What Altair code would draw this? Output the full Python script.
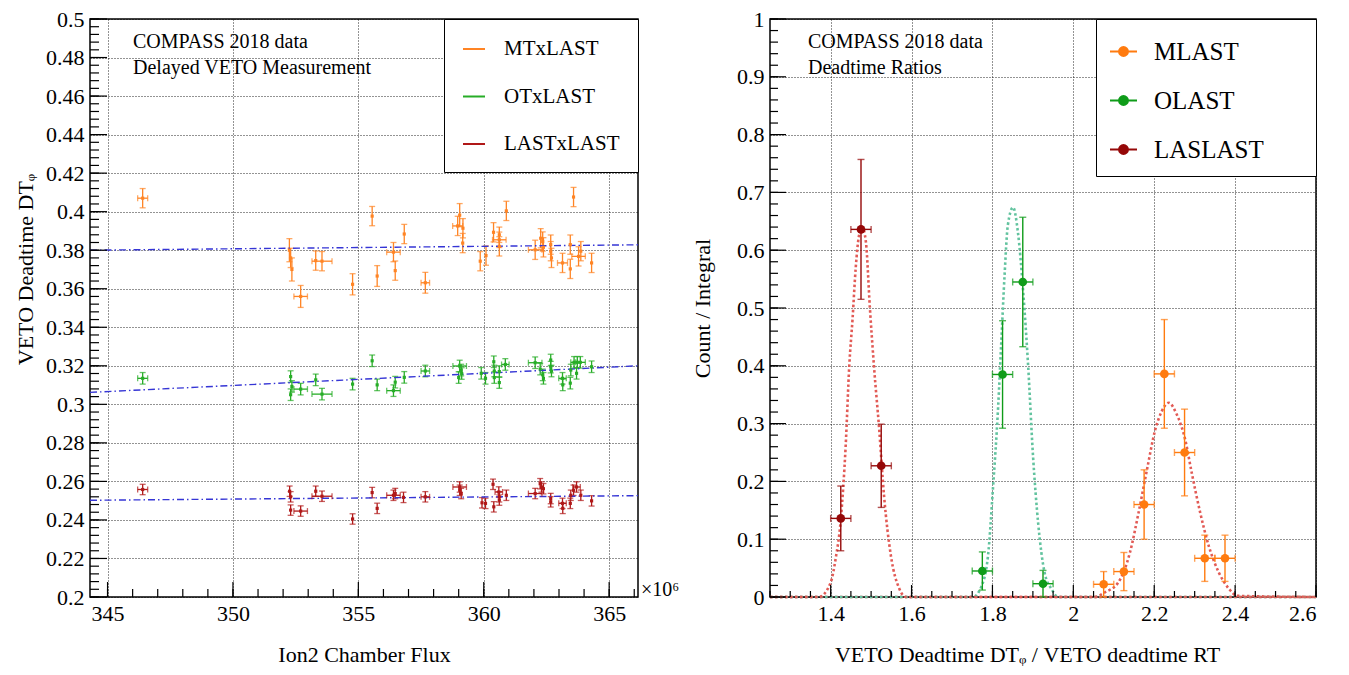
import altair as alt
import pandas as pd
import numpy as np

FONT = "Liberation Serif"

# ---------------- Left panel: Delayed VETO measurement ----------------
left_series = ["MTxLAST", "OTxLAST", "LASTxLAST"]
left_colors = ["#ff8424", "#27ad27", "#b01818"]

mt_x = [346.4, 352.25, 352.3, 352.35, 352.7, 353.3, 353.55, 354.77, 355.55, 355.75,
        356.4, 356.47, 356.83, 357.67, 358.96, 359.04, 359.17, 359.16, 359.86, 360.09,
        360.39, 360.62, 360.62, 360.62, 360.9, 362.05, 362.27, 362.35, 362.38, 362.67,
        362.67, 362.7, 363.14, 363.45, 363.45, 363.58, 363.78, 363.87, 364.3]
mt_y = [0.407, 0.380, 0.376, 0.370, 0.356, 0.3746, 0.3743, 0.3623, 0.3977, 0.3666,
        0.379, 0.3694, 0.3884, 0.3631, 0.3926, 0.3982, 0.3914, 0.3837, 0.3743, 0.3772,
        0.3893, 0.388, 0.3854, 0.382, 0.4004, 0.3802, 0.3862, 0.3845, 0.3815, 0.3829,
        0.3795, 0.376, 0.3734, 0.3829, 0.3703, 0.4076, 0.3768, 0.3795, 0.3734]
mt_ex = [0.2, 0, 0, 0, 0.27, 0, 0.4, 0, 0, 0, 0.27, 0, 0, 0.17, 0.2, 0, 0, 0, 0, 0,
         0, 0, 0.27, 0, 0, 0.27, 0, 0, 0, 0, 0, 0, 0.2, 0, 0, 0, 0.27, 0, 0]
mt_ey = [0.005, 0.006, 0.005, 0.006, 0.0057, 0.005, 0.005, 0.0055, 0.005, 0.0054,
         0.005, 0.005, 0.005, 0.0054, 0.005, 0.006, 0.005, 0.005, 0.005, 0.005,
         0.005, 0.004, 0.004, 0.005, 0.005, 0.005, 0.005, 0.005, 0.005, 0.005,
         0.005, 0.005, 0.005, 0.005, 0.005, 0.005, 0.005, 0.005, 0.005]

ot_x = [346.4, 352.3, 352.35, 352.3, 352.7, 353.3, 353.55, 354.77, 355.55, 355.75,
        356.4, 356.47, 356.83, 357.67, 359.04, 359.1, 359.0, 359.12, 359.9, 360.07,
        360.4, 360.42, 360.42, 360.62, 360.62, 360.86, 362.05, 362.25, 362.35, 362.38,
        362.67, 362.67, 362.7, 363.14, 363.15, 363.45, 363.47, 363.6, 363.73, 363.85,
        363.7, 364.3]
ot_y = [0.3135, 0.3144, 0.3093, 0.3050, 0.3079, 0.3127, 0.3053, 0.3105, 0.3226, 0.3101,
        0.3071, 0.3115, 0.3140, 0.3173, 0.3199, 0.3178, 0.3139, 0.3160, 0.3161, 0.3135,
        0.3221, 0.3173, 0.3139, 0.3170, 0.3113, 0.3207, 0.3216, 0.3183, 0.3153, 0.3135,
        0.3230, 0.3193, 0.3173, 0.3135, 0.3101, 0.3110, 0.3178, 0.3218, 0.3218, 0.3218,
        0.3161, 0.3195]
ot_ex = [0.2, 0, 0, 0, 0.27, 0, 0.4, 0, 0, 0, 0.27, 0, 0, 0.17, 0.27, 0, 0, 0, 0, 0,
         0, 0, 0, 0, 0, 0.15, 0.27, 0, 0, 0, 0, 0, 0, 0.15, 0, 0, 0, 0.13, 0, 0.2, 0, 0]
ot_ey = [0.003] * 42

last_x = [346.4, 352.26, 352.3, 352.3, 352.7, 353.3, 353.55, 354.77, 355.55, 355.75,
          356.4, 356.47, 356.8, 357.67, 359.04, 359.04, 359.1, 359.93, 360.07, 360.37,
          360.4, 360.6, 360.62, 360.62, 360.9, 362.05, 362.25, 362.3, 362.38, 362.67,
          362.67, 363.14, 363.15, 363.45, 363.47, 363.58, 363.7, 363.87, 364.3]
last_y = [0.2558, 0.2549, 0.2520, 0.2451, 0.2446, 0.2549, 0.2523, 0.2405, 0.2542, 0.2460,
          0.2528, 0.2537, 0.2517, 0.2520, 0.2571, 0.2554, 0.2537, 0.2489, 0.2486, 0.2585,
          0.2468, 0.2545, 0.2520, 0.2503, 0.2528, 0.2537, 0.2588, 0.2571, 0.2562, 0.2511,
          0.2494, 0.2486, 0.2460, 0.2486, 0.2528, 0.2554, 0.2571, 0.2528, 0.2499]
last_ex = [0.2, 0, 0, 0, 0.27, 0, 0.4, 0, 0, 0, 0.27, 0, 0, 0.17, 0.27, 0, 0, 0, 0, 0,
           0, 0.15, 0, 0, 0, 0.27, 0, 0, 0, 0, 0, 0.15, 0, 0, 0, 0, 0.15, 0, 0]
last_ey = [0.0027] * 39

# linear fits (dash-dot), read at the two frame edges
fit_x = [344.3, 366.15]
mt_fit = [0.3800, 0.3828]
ot_fit = [0.3062, 0.3200]
last_fit = [0.2502, 0.2526]

left_x_major = [345, 350, 355, 360, 365]
left_y_major = [0.2, 0.22, 0.24, 0.26, 0.28, 0.3, 0.32, 0.34, 0.36, 0.38,
                0.4, 0.42, 0.44, 0.46, 0.48, 0.5]

# ---------------- Right panel: deadtime ratios ----------------
right_series = ["MLAST", "OLAST", "LASLAST"]
right_colors = ["#ff7b0f", "#0f9c19", "#950808"]

ml_x = [2.075, 2.125, 2.175, 2.225, 2.275, 2.325, 2.375]
ml_y = [0.022, 0.044, 0.160, 0.386, 0.250, 0.067, 0.067]
ml_ey = [0.022, 0.033, 0.060, 0.094, 0.075, 0.040, 0.040]

ol_x = [1.775, 1.825, 1.875, 1.925]
ol_y = [0.045, 0.385, 0.545, 0.023]
ol_ey = [0.033, 0.093, 0.112, 0.023]

la_x = [1.425, 1.475, 1.525]
la_y = [0.136, 0.636, 0.227]
la_ey = [0.056, 0.121, 0.072]

bin_half = 0.025

# Gaussian fit curves
mlfit_x = [1.25, 2.053, 2.078, 2.111, 2.140, 2.161, 2.182, 2.202, 2.219, 2.236,
           2.255, 2.277, 2.293, 2.314, 2.335, 2.360, 2.385, 2.405, 2.6]
mlfit_y = [0.0, 0.0, 0.008, 0.025, 0.077, 0.145, 0.220, 0.288, 0.322, 0.336,
           0.317, 0.271, 0.214, 0.145, 0.088, 0.042, 0.014, 0.002, 0.0]
olfit_x = [1.25, 1.752, 1.772, 1.789, 1.801, 1.814, 1.822, 1.830, 1.838, 1.851,
           1.863, 1.876, 1.888, 1.9005, 1.913, 1.929, 1.946, 1.9625, 2.6]
olfit_y = [0.0, 0.0, 0.017, 0.071, 0.185, 0.328, 0.443, 0.557, 0.643, 0.674,
           0.631, 0.528, 0.403, 0.242, 0.128, 0.042, 0.014, 0.0, 0.0]
lafit_x = [1.25, 1.371, 1.400, 1.412, 1.425, 1.437, 1.446, 1.454, 1.462, 1.470,
           1.478, 1.487, 1.497, 1.507, 1.520, 1.532, 1.549, 1.570, 1.586, 2.6]
lafit_y = [0.0, 0.0, 0.025, 0.065, 0.134, 0.260, 0.400, 0.480, 0.570, 0.625,
           0.640, 0.615, 0.500, 0.400, 0.290, 0.175, 0.071, 0.014, 0.0, 0.0]

right_x_major = [1.4, 1.6, 1.8, 2.0, 2.2, 2.4, 2.6]
right_y_major = [0, 0.1, 0.2, 0.3, 0.4, 0.5, 0.6, 0.7, 0.8, 0.9, 1.0]

# ---------------- Build tables ----------------
def table(series, xs, ys, exs, eys):
    d = pd.DataFrame({"series": series, "x": xs, "y": ys, "ex": exs, "ey": eys})
    d["xlo"] = d["x"] - d["ex"]
    d["xhi"] = d["x"] + d["ex"]
    d["ylo"] = d["y"] - d["ey"]
    d["yhi"] = d["y"] + d["ey"]
    return d

left_df = pd.concat([
    table("MTxLAST", mt_x, mt_y, mt_ex, mt_ey),
    table("OTxLAST", ot_x, ot_y, ot_ex, ot_ey),
    table("LASTxLAST", last_x, last_y, last_ex, last_ey),
], ignore_index=True)
left_fit = pd.concat([
    pd.DataFrame({"series": s, "x": fit_x, "y": v})
    for s, v in zip(left_series, [mt_fit, ot_fit, last_fit])
], ignore_index=True)

right_df = pd.concat([
    table("MLAST", ml_x, ml_y, [bin_half] * len(ml_x), ml_ey),
    table("OLAST", ol_x, ol_y, [bin_half] * len(ol_x), ol_ey),
    table("LASLAST", la_x, la_y, [bin_half] * len(la_x), la_ey),
], ignore_index=True)
right_fit = pd.concat([
    pd.DataFrame({"fit": "MLAST fit", "x": mlfit_x, "y": mlfit_y}),
    pd.DataFrame({"fit": "OLAST fit", "x": olfit_x, "y": olfit_y}),
    pd.DataFrame({"fit": "LASLAST fit", "x": lafit_x, "y": lafit_y}),
], ignore_index=True)


def minor(lo, hi, step):
    n = int(round((hi - lo) / step))
    return [round(lo + i * step, 6) for i in range(n + 1)]


def tick_layers(xsc, ysc, xax, yax, xmaj, xmin, ymaj, ymin, H, lxM, lxm, lyM, lym):
    out = []
    for vals, ln in [(xmaj, lxM), (xmin, lxm)]:
        out.append(alt.Chart(pd.DataFrame({"v": vals})).mark_rule(color="black", strokeWidth=1.2).encode(
            x=alt.X("v:Q", scale=xsc, axis=xax), y=alt.value(H), y2=alt.value(H - ln)))
    for vals, ln in [(ymaj, lyM), (ymin, lym)]:
        out.append(alt.Chart(pd.DataFrame({"v": vals})).mark_rule(color="black", strokeWidth=1.2).encode(
            y=alt.Y("v:Q", scale=ysc, axis=yax), x=alt.value(0), x2=alt.value(ln)))
    return out

W_L, W_R, H = 548, 546, 578

# ---------------- Left chart ----------------
xsc_l = alt.Scale(domain=[344.3, 366.15], nice=False, zero=False)
ysc_l = alt.Scale(domain=[0.2, 0.5], nice=False, zero=False)
xax_l = alt.Axis(values=left_x_major, title="Ion2 Chamber Flux", grid=True,
                 labelPadding=6, titlePadding=20, format="~g")
yax_l = alt.Axis(values=left_y_major, title="VETO Deadtime DTᵩ", grid=True,
                 labelPadding=6, titlePadding=8, format="~g", titleY=250)
color_l = alt.Color("series:N", scale=alt.Scale(domain=left_series, range=left_colors),
                    sort=left_series,
                    legend=alt.Legend(title=None, orient="top-right", offset=0, padding=18,
                                      rowPadding=25.5, labelFontSize=21, labelOffset=18,
                                      symbolType="M-1,0H1", symbolSize=484, symbolStrokeWidth=2,
                                      symbolOpacity=1))
lbase = alt.Chart(left_df)
l_yerr = lbase.mark_errorbar(ticks={"size": 6}, thickness=1.3).encode(
    x=alt.X("x:Q", scale=xsc_l, axis=xax_l),
    y=alt.Y("ylo:Q", scale=ysc_l, axis=yax_l),
    y2="yhi:Q", color=color_l)
l_xerr = lbase.transform_filter("datum.ex > 0").mark_errorbar(ticks={"size": 6}, thickness=1.3).encode(
    y=alt.Y("y:Q", scale=ysc_l, axis=yax_l),
    x=alt.X("xlo:Q", scale=xsc_l, axis=xax_l), x2="xhi:Q", color=color_l)
l_pts = lbase.mark_square(size=10, opacity=1).encode(
    x=alt.X("x:Q", scale=xsc_l, axis=xax_l), y=alt.Y("y:Q", scale=ysc_l, axis=yax_l), color=color_l)
l_fit = alt.Chart(left_fit).mark_line(color="#3535d5", strokeWidth=1.4, strokeDash=[7, 3, 1.5, 3]).encode(
    x=alt.X("x:Q", scale=xsc_l, axis=xax_l), y=alt.Y("y:Q", scale=ysc_l, axis=yax_l), detail="series:N")
l_text = alt.Chart(pd.DataFrame({"t": ["COMPASS 2018 data\nDelayed VETO Measurement"]})).mark_text(
    align="left", baseline="middle", font=FONT, fontSize=20, lineBreak="\n", lineHeight=26, color="black"
).encode(x=alt.value(43), y=alt.value(23), text="t:N")
l_exp = alt.Chart(pd.DataFrame({"t": ["×10⁶"]})).mark_text(
    align="left", baseline="middle", font=FONT, fontSize=20, color="black"
).encode(x=alt.value(551), y=alt.value(571), text="t:N")

left = alt.layer(
    l_yerr, l_fit, l_xerr, l_pts,
    *tick_layers(xsc_l, ysc_l, xax_l, yax_l, left_x_major, minor(345, 366, 1), left_y_major,
                 minor(0.2, 0.5, 0.004), H, 15, 8, 17, 9),
    l_text, l_exp,
).properties(width=W_L, height=H)

# ---------------- Right chart ----------------
xsc_r = alt.Scale(domain=[1.25, 2.6], nice=False, zero=False)
ysc_r = alt.Scale(domain=[0, 1], nice=False, zero=False)
xax_r = alt.Axis(values=right_x_major, grid=True, format="~g", labelPadding=6,
                 title="VETO Deadtime DTᵩ  / VETO deadtime RT", titlePadding=20, titleX=257)
yax_r = alt.Axis(values=right_y_major, grid=True, format="~g", labelPadding=6,
                 title="Count / Integral", titlePadding=22)
color_r = alt.Color("series:N", scale=alt.Scale(domain=right_series, range=right_colors),
                    sort=right_series,
                    legend=alt.Legend(title="M" * 41, titleFontSize=5, titleFont=FONT, titlePadding=0,
                                      titleLimit=600, titleColor="rgba(0,0,0,0)",
                                      orient="top-right", offset=0, padding=13,
                                      rowPadding=21, labelFontSize=25, labelOffset=16,
                                      symbolType="M-1,0H1M0.33,0A0.33,0.33,0,1,1,-0.33,0A0.33,0.33,0,1,1,0.33,0",
                                      symbolSize=729, symbolStrokeWidth=2, symbolOpacity=1))
rbase = alt.Chart(right_df)
r_fit = alt.Chart(right_fit).mark_line(interpolate="monotone", strokeWidth=2.6, strokeDash=[2.5, 2.5]).encode(
    x=alt.X("x:Q", scale=xsc_r, axis=xax_r),
    y=alt.Y("y:Q", scale=ysc_r, axis=yax_r),
    stroke=alt.Stroke("fit:N", scale=alt.Scale(domain=["MLAST fit", "OLAST fit", "LASLAST fit"],
                                               range=["#e25a55", "#62c39f", "#e25a55"]), legend=None),
    detail="fit:N")
r_yerr = rbase.mark_errorbar(ticks={"size": 7}, thickness=1.4).encode(
    x=alt.X("x:Q", scale=xsc_r, axis=xax_r),
    y=alt.Y("ylo:Q", scale=ysc_r, axis=yax_r), y2="yhi:Q", color=color_r)
r_xerr = rbase.mark_errorbar(ticks={"size": 7}, thickness=1.4).encode(
    y=alt.Y("y:Q", scale=ysc_r, axis=yax_r),
    x=alt.X("xlo:Q", scale=xsc_r, axis=xax_r), x2="xhi:Q", color=color_r)
r_pts = rbase.mark_circle(size=75, opacity=1).encode(
    x=alt.X("x:Q", scale=xsc_r, axis=xax_r), y=alt.Y("y:Q", scale=ysc_r, axis=yax_r), color=color_r)
r_text = alt.Chart(pd.DataFrame({"t": ["COMPASS 2018 data\nDeadtime Ratios"]})).mark_text(
    align="left", baseline="middle", font=FONT, fontSize=20, lineBreak="\n", lineHeight=26, color="black"
).encode(x=alt.value(38), y=alt.value(23), text="t:N")

right = alt.layer(
    r_fit, r_yerr, r_xerr, r_pts,
    *tick_layers(xsc_r, ysc_r, xax_r, yax_r, right_x_major, minor(1.25, 2.6, 0.05), right_y_major,
                 minor(0, 1, 0.02), H, 12, 6, 16, 8),
    r_text,
).properties(width=W_R, height=H)

chart = alt.hconcat(left, right, spacing=132, bounds="flush").resolve_scale(
    color="independent", stroke="independent"
).resolve_legend(color="independent").properties(
    padding={"left": 5, "top": -1, "right": 5, "bottom": 0}
).configure_axis(
    labelFont=FONT, titleFont=FONT, labelFontSize=22, titleFontSize=22, titleFontWeight="normal",
    labelColor="black", titleColor="black", domain=False, ticks=False,
    gridColor="black", gridDash=[1, 2], gridOpacity=0.85, gridWidth=1
).configure_view(stroke="black", strokeWidth=1.5).configure_legend(
    labelFont=FONT, labelColor="black", strokeColor="black", fillColor="white", cornerRadius=0
)

chart.save("out.html", embed_options={"renderer": "svg", "actions": False})
